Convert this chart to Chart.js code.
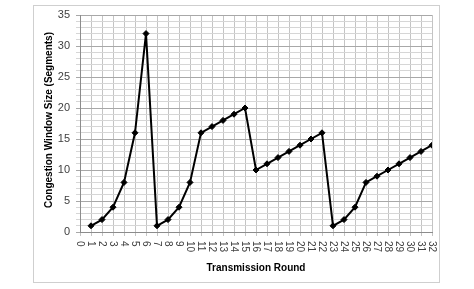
<!DOCTYPE html>
<html>
<head>
<meta charset="utf-8">
<script src="https://cdn.jsdelivr.net/npm/chart.js@4.4.1/dist/chart.umd.min.js"></script>
<style>
  html, body { margin: 0; padding: 0; background: #fff; }
</style>
</head>
<body>
<canvas id="chart" width="474" height="289"></canvas>
<script>
// transmission rounds and congestion window sizes
var rounds = [1, 2, 3, 4, 5, 6, 7, 8, 9, 10, 11, 12, 13, 14, 15, 16,
              17, 18, 19, 20, 21, 22, 23, 24, 25, 26, 27, 28, 29, 30, 31, 32];
var cwnd   = [1, 2, 4, 8, 16, 32, 1, 2, 4, 8, 16, 17, 18, 19, 20, 10,
              11, 12, 13, 14, 15, 16, 1, 2, 4, 8, 9, 10, 11, 12, 13, 14];
var xTicks = [0, 1, 2, 3, 4, 5, 6, 7, 8, 9, 10, 11, 12, 13, 14, 15, 16,
              17, 18, 19, 20, 21, 22, 23, 24, 25, 26, 27, 28, 29, 30, 31, 32];
var yTicks = [0, 5, 10, 15, 20, 25, 30, 35];
var xTitle = 'Transmission Round';
var yTitle = 'Congestion Window Size (Segments)';

var FONT = '"Liberation Sans", Arial, sans-serif';

var points = [];
for (var i = 0; i < rounds.length; i++) {
    points.push({x: rounds[i], y: cwnd[i]});
}

// frame, axis titles and sideways x labels
var decorations = {
    id: 'decorations',
    beforeDraw: function (chart) {
        var ctx = chart.ctx;
        ctx.save();
        ctx.fillStyle = '#fff';
        ctx.fillRect(0, 0, chart.width, chart.height);
        ctx.strokeStyle = '#cfcfcf';
        ctx.lineWidth = 1;
        ctx.strokeRect(33.5, 5.5, 406, 277);
        ctx.restore();
    },
    afterDraw: function (chart) {
        var ctx = chart.ctx,
            xs = chart.scales.x,
            area = chart.chartArea;
        ctx.save();
        ctx.fillStyle = '#404040';
        ctx.font = '10px ' + FONT;
        ctx.textAlign = 'left';
        ctx.textBaseline = 'middle';
        for (var i = 0; i < xTicks.length; i++) {
            var px = xs.getPixelForValue(xTicks[i]);
            ctx.save();
            ctx.translate(px, area.bottom + 9);
            ctx.rotate(Math.PI / 2);
            ctx.fillText(String(xTicks[i]), 0, 0);
            ctx.restore();
        }
        ctx.fillStyle = '#000';
        ctx.font = 'bold 10px ' + FONT;
        ctx.textAlign = 'center';
        ctx.fillText(xTitle, (area.left + area.right) / 2, 268);
        ctx.save();
        ctx.translate(49, 120);
        ctx.rotate(-Math.PI / 2);
        ctx.font = 'bold 10px ' + FONT;
        ctx.fillText(yTitle, 0, 0);
        ctx.restore();
        ctx.restore();
    }
};

new Chart(document.getElementById('chart'), {
    type: 'line',
    data: {
        datasets: [{
            data: points,
            borderColor: '#000',
            backgroundColor: '#000',
            borderWidth: 2,
            pointStyle: 'rectRot',
            pointRadius: 3,
            pointBorderWidth: 1,
            tension: 0
        }]
    },
    options: {
        responsive: false,
        animation: false,
        devicePixelRatio: 1,
        layout: { padding: { top: 15, right: 42, left: 0, bottom: 0 } },
        plugins: { legend: { display: false }, tooltip: { enabled: false } },
        scales: {
            x: {
                type: 'linear',
                min: 0,
                max: 32,
                ticks: { stepSize: 1, display: false },
                grid: { color: '#c4c4c4', lineWidth: 1, tickLength: 4, drawTicks: true },
                border: { color: '#8c8c8c' },
                afterFit: function (s) { s.height = 57; }
            },
            y: {
                min: 0,
                max: 35,
                ticks: {
                    stepSize: 1,
                    autoSkip: false,
                    color: '#404040',
                    font: { family: FONT, size: 11 },
                    padding: 6,
                    callback: function (v) { return yTicks.indexOf(v) >= 0 ? String(v) : ''; }
                },
                grid: {
                    color: function (c) { return c.tick && c.tick.value % 5 === 0 ? '#a8a8a8' : '#d6d6d6'; },
                    tickLength: 4,
                    drawTicks: true
                },
                border: { color: '#8c8c8c' },
                afterFit: function (s) { s.width = 80; }
            }
        }
    },
    plugins: [decorations]
});
</script>
</body>
</html>
